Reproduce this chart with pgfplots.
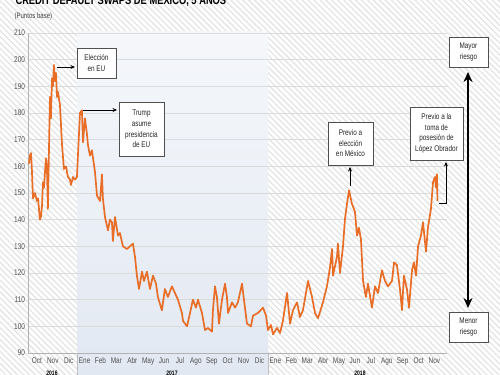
\documentclass[border=0pt]{standalone}
\usepackage{fontspec}
\setmainfont{Liberation Sans}[FakeStretch=0.78]
\usepackage{pgfplots}
\pgfplotsset{compat=1.18}
\usepackage{pgfplotstable}
\usetikzlibrary{patterns.meta,arrows.meta}
\definecolor{cdsorange}{RGB}{232,110,40}
\definecolor{ticktext}{RGB}{80,80,80}
\definecolor{shade17}{RGB}{226,232,242}
\definecolor{boxline}{RGB}{80,80,80}

\pgfplotstableread{
m v
0.00 161
0.06 164
0.13 165
0.19 158
0.25 148
0.38 150
0.50 147
0.57 148
0.69 140
0.75 141
0.82 145
0.88 154
0.94 152
1.01 158
1.07 163
1.13 160
1.19 144
1.32 186
1.38 178
1.45 193
1.51 190
1.57 198
1.64 192
1.70 195
1.76 186
1.82 188
1.95 183
2.08 168
2.20 159
2.33 160
2.45 156
2.58 155
2.64 153
2.77 156
2.89 155
3.02 156
3.08 164
3.21 180
3.33 181
3.40 169
3.52 178
3.65 172
3.71 168
3.84 164
3.96 166
4.15 158
4.28 149
4.47 147
4.59 157
4.65 148
4.78 141
4.97 136
5.09 140
5.22 139
5.28 132
5.41 141
5.60 134
5.72 135
5.91 130
6.16 129
6.35 130
6.54 131
6.67 126
6.79 119
6.92 114
7.11 120.5
7.23 117
7.42 120.5
7.61 114
7.80 119
7.99 116
8.11 111
8.36 106
8.55 114
8.74 111
8.99 115
9.18 112.5
9.37 110
9.62 105
9.69 102
9.94 100
10.13 105
10.31 110
10.50 107
10.63 110
10.88 105
11.07 98.6
11.26 99.4
11.51 98
11.57 106
11.70 115
11.82 111
11.95 101
12.14 110
12.33 116
12.45 111
12.52 105
12.77 109
12.96 107
13.14 109
13.40 116
13.52 110
13.71 101
13.96 100
14.09 104
14.40 105
14.72 107
14.91 104
15.03 98.6
15.22 100.5
15.35 97
15.60 99.4
15.79 97.5
15.97 102
16.23 112.5
16.42 101
16.60 106
16.86 109
17.04 103.5
17.23 106
17.55 117
17.80 111
17.99 105
18.18 103
18.49 109
18.74 115
18.93 122
19.06 129
19.12 119
19.37 126
19.43 131
19.56 120
19.75 130
19.87 140
20.00 146
20.13 151
20.31 146
20.50 143
20.63 134
20.75 137
20.88 132.5
21.01 117
21.19 111
21.32 116
21.57 107
21.76 115
21.95 112.5
22.20 121
22.39 117
22.58 115
22.83 117
22.96 124
23.14 123
23.33 114
23.46 106
23.58 119
23.77 114
23.90 107
24.09 121
24.21 124
24.34 119
24.47 130
24.65 134
24.78 139
24.97 128
25.09 137
25.28 144
25.41 154
25.53 156
25.60 152
25.66 157
25.69 147
}\cds

\begin{document}
\begin{tikzpicture}
\path[use as bounding box] (0,0) rectangle (500bp,375bp);
\fill[white] (0,0) rectangle (500bp,375bp);
\fill[pattern={Lines[angle=-45,distance=4.2bp,line width=1.3bp]},pattern color=black!10] (0,0) rectangle (500bp,375bp);
\shade[top color=shade17!35!white, bottom color=shade17] (77bp,0) rectangle (268bp,343bp);
\draw[black!25, line width=0.5bp] (77bp,0)--(77bp,22bp) (268bp,0)--(268bp,22bp);

\begin{axis}[at={(28bp,22bp)}, anchor=south west, scale only axis,
  width=419bp, height=320bp,
  xmin=-0.06, xmax=26.29, ymin=90, ymax=210,
  axis x line*=bottom, axis y line*=left,
  axis line style={-, black!30, line width=0.6bp},
  ytick={90,100,...,210}, ymajorgrids,
  grid style={black!14, line width=0.6bp},
  xtick={0.5,1.5,...,25.5},
  xticklabels={Oct,Nov,Dic,Ene,Feb,Mar,Abr,May,Jun,Jul,Ago,Sep,Oct,Nov,Dic,Ene,Feb,Mar,Abr,May,Jun,Jul,Ago,Sep,Oct,Nov},
  major tick length=0pt,
  tick label style={font=\fontsize{8.3}{9}\selectfont, text=ticktext},
  yticklabel style={xshift=0.5bp},
  /pgf/number format/assume math mode=true,
  xticklabel style={yshift=-1bp},
  clip=false]
\addplot[cdsorange, line width=1.7bp, line join=round] table[x=m,y=v] {\cds};
\end{axis}

\node[anchor=base west, font=\bfseries\fontsize{12}{12}\selectfont] at (12bp,370bp) {CREDIT DEFAULT SWAPS DE MÉXICO, 5 AÑOS};

\begin{scope}[shift={(0,375bp)}, x=1bp, y=-1bp]
  \node[anchor=west, font=\fontsize{7.8}{9}\selectfont, text=black!75] at (11,16) {(Puntos base)};
  \tikzset{ann/.style={draw=boxline, line width=0.8bp, fill=white},
           anntext/.style={align=center, font=\fontsize{8.2}{10.6}\selectfont, text=black!85},
           arr/.style={line width=0.7bp, -{Stealth[length=4.5bp,width=4bp]}}}
  % Eleccion en EU
  \draw[ann] (77,48) rectangle (116,78);
  \node[anntext] at (96.5,63) {Elección\\en EU};
  \draw[arr] (57,67) -- (75,67);
  % Trump
  \draw[ann] (119,102) rectangle (164,156);
  \node[anntext] at (141.5,129) {Trump\\asume\\presidencia\\de EU};
  \draw[arr] (83,110) -- (117,110);
  % Mexico
  \draw[ann] (328,122) rectangle (373,165);
  \node[anntext] at (350.5,143.5) {Previo a\\elección\\en México};
  \draw[arr] (350,186) -- (350,167);
  % Lopez Obrador
  \draw[ann] (410,107) rectangle (463,160);
  \node[anntext] at (436.5,133.5) {Previo a la\\toma de\\posesión de\\López Obrador};
  \draw[line width=0.7bp, -{Stealth[length=4.5bp,width=4bp]}] (439,203) -- (446,203) -- (446,162);
  % Risk
  \draw[ann] (449,37) rectangle (488,67);
  \node[anntext] at (468.5,52) {Mayor\\riesgo};
  \draw[ann] (449,312) rectangle (488,342);
  \node[anntext] at (468.5,327) {Menor\\riesgo};
  \draw[line width=1.9bp, {Stealth[length=10bp,width=9bp]}-{Stealth[length=10bp,width=9bp]}] (468,72) -- (468,308);
  % years
  \node[font=\bfseries\fontsize{6.5}{7}\selectfont, anchor=north] at (52,367) {2016};
  \node[font=\bfseries\fontsize{6.5}{7}\selectfont, anchor=north] at (172,367) {2017};
  \node[font=\bfseries\fontsize{6.5}{7}\selectfont, anchor=north] at (360,367) {2018};
\end{scope}
\end{tikzpicture}
\end{document}
